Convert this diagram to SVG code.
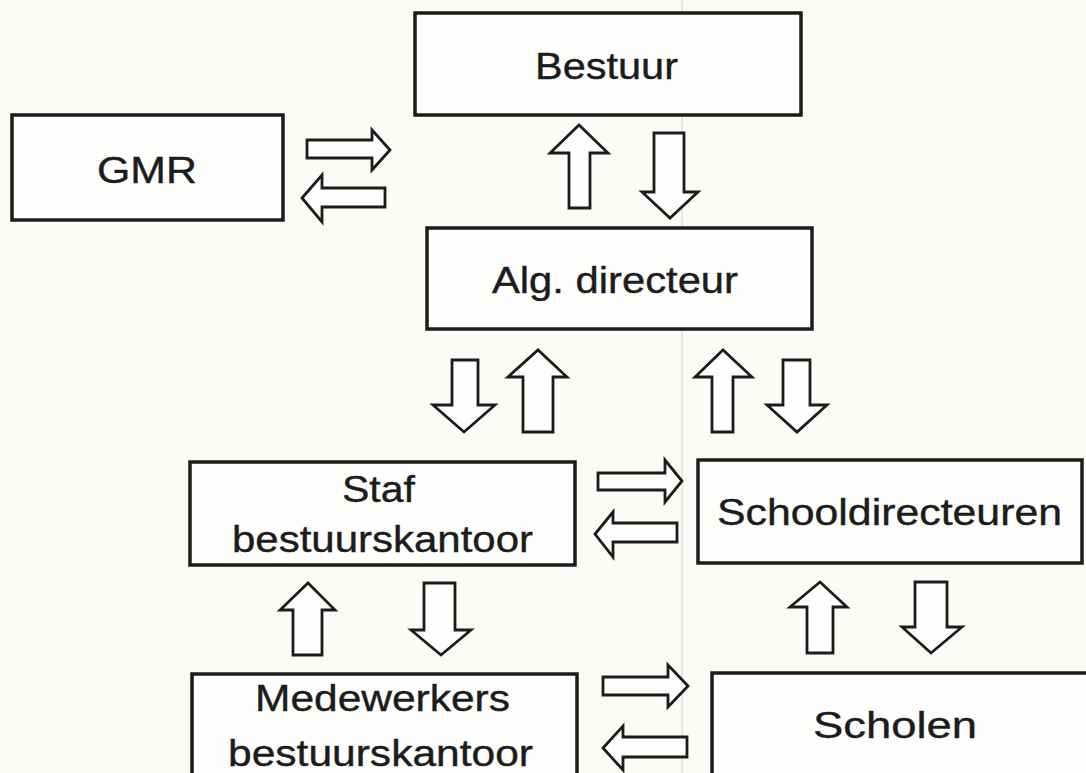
<svg xmlns="http://www.w3.org/2000/svg" width="1086" height="773" viewBox="0 0 1086 773">
<style>
.box{fill:#fefefd;stroke:#1c1c1c;stroke-width:3.5}
.arr{fill:#fefefd;stroke:#1c1c1c;stroke-width:2.8;stroke-linejoin:miter}
.t{font-family:"Liberation Sans",Arial,sans-serif;font-size:37px;fill:#1c1c1c;stroke:#1c1c1c;stroke-width:0.4}
</style>
<rect width="1086" height="773" fill="#fbfbf8"/>
<line x1="682" y1="0" x2="682" y2="773" stroke="#cfcfcf" stroke-width="1"/>
<g id="gmr"><rect class="box" x="12" y="115" width="271" height="105"/><text class="t" x="97" y="183" textLength="100" lengthAdjust="spacingAndGlyphs">GMR</text></g>
<g id="bestuur"><rect class="box" x="415" y="13" width="386" height="102"/><text class="t" x="535" y="79" textLength="143" lengthAdjust="spacingAndGlyphs">Bestuur</text></g>
<g id="alg"><rect class="box" x="427" y="228" width="385" height="101"/><text class="t" x="492" y="293" textLength="246" lengthAdjust="spacingAndGlyphs">Alg. directeur</text></g>
<g id="staf"><rect class="box" x="190" y="462" width="385" height="103"/><text class="t" x="342" y="502" textLength="73" lengthAdjust="spacingAndGlyphs">Staf</text><text class="t" x="232" y="552" textLength="301" lengthAdjust="spacingAndGlyphs">bestuurskantoor</text></g>
<g id="schooldirecteuren"><rect class="box" x="698" y="460" width="384" height="103"/><text class="t" x="717" y="525" textLength="345" lengthAdjust="spacingAndGlyphs">Schooldirecteuren</text></g>
<g id="medewerkers"><rect class="box" x="192" y="674" width="385" height="110"/><text class="t" x="255" y="711" textLength="255" lengthAdjust="spacingAndGlyphs">Medewerkers</text><text class="t" x="228" y="766" textLength="305" lengthAdjust="spacingAndGlyphs">bestuurskantoor</text></g>
<g id="scholen"><rect class="box" x="712" y="673" width="380" height="110"/><text class="t" x="813" y="738" textLength="164" lengthAdjust="spacingAndGlyphs">Scholen</text></g>
<g id="connectors">
<polygon class="arr" points="307,140 372,140 372,130 390,150 372,170 372,158 307,158"/>
<polygon class="arr" points="385,188 322,188 322,175 302,198 322,222 322,207 385,207"/>
<polygon class="arr" points="569,208 569,153 550,153 579,125 608,153 590,153 590,208"/>
<polygon class="arr" points="654,133 684,133 684,192 698,192 670,218 642,192 654,192"/>
<polygon class="arr" points="452,360 478,360 478,405 495,405 464,432 433,405 452,405"/>
<polygon class="arr" points="523,432 523,377 508,377 538,350 567,377 553,377 553,432"/>
<polygon class="arr" points="712,432 712,377 695,377 723,350 752,377 733,377 733,432"/>
<polygon class="arr" points="783,360 810,360 810,405 827,405 797,432 767,405 783,405"/>
<polygon class="arr" points="598,473 665,473 665,460 682,481 665,502 665,490 598,490"/>
<polygon class="arr" points="677,523 613,523 613,512 595,534 613,557 613,542 677,542"/>
<polygon class="arr" points="807,653 807,607 790,607 820,582 847,607 833,607 833,653"/>
<polygon class="arr" points="915,582 947,582 947,627 962,627 931,653 902,627 915,627"/>
<polygon class="arr" points="293,655 293,610 280,610 308,583 335,610 322,610 322,655"/>
<polygon class="arr" points="424,583 455,583 455,630 471,630 441,655 411,630 424,630"/>
<polygon class="arr" points="603,677 668,677 668,665 688,686 668,707 668,695 603,695"/>
<polygon class="arr" points="687,737 623,737 623,726 603,748 623,770 623,757 687,757"/>
</g>
</svg>
